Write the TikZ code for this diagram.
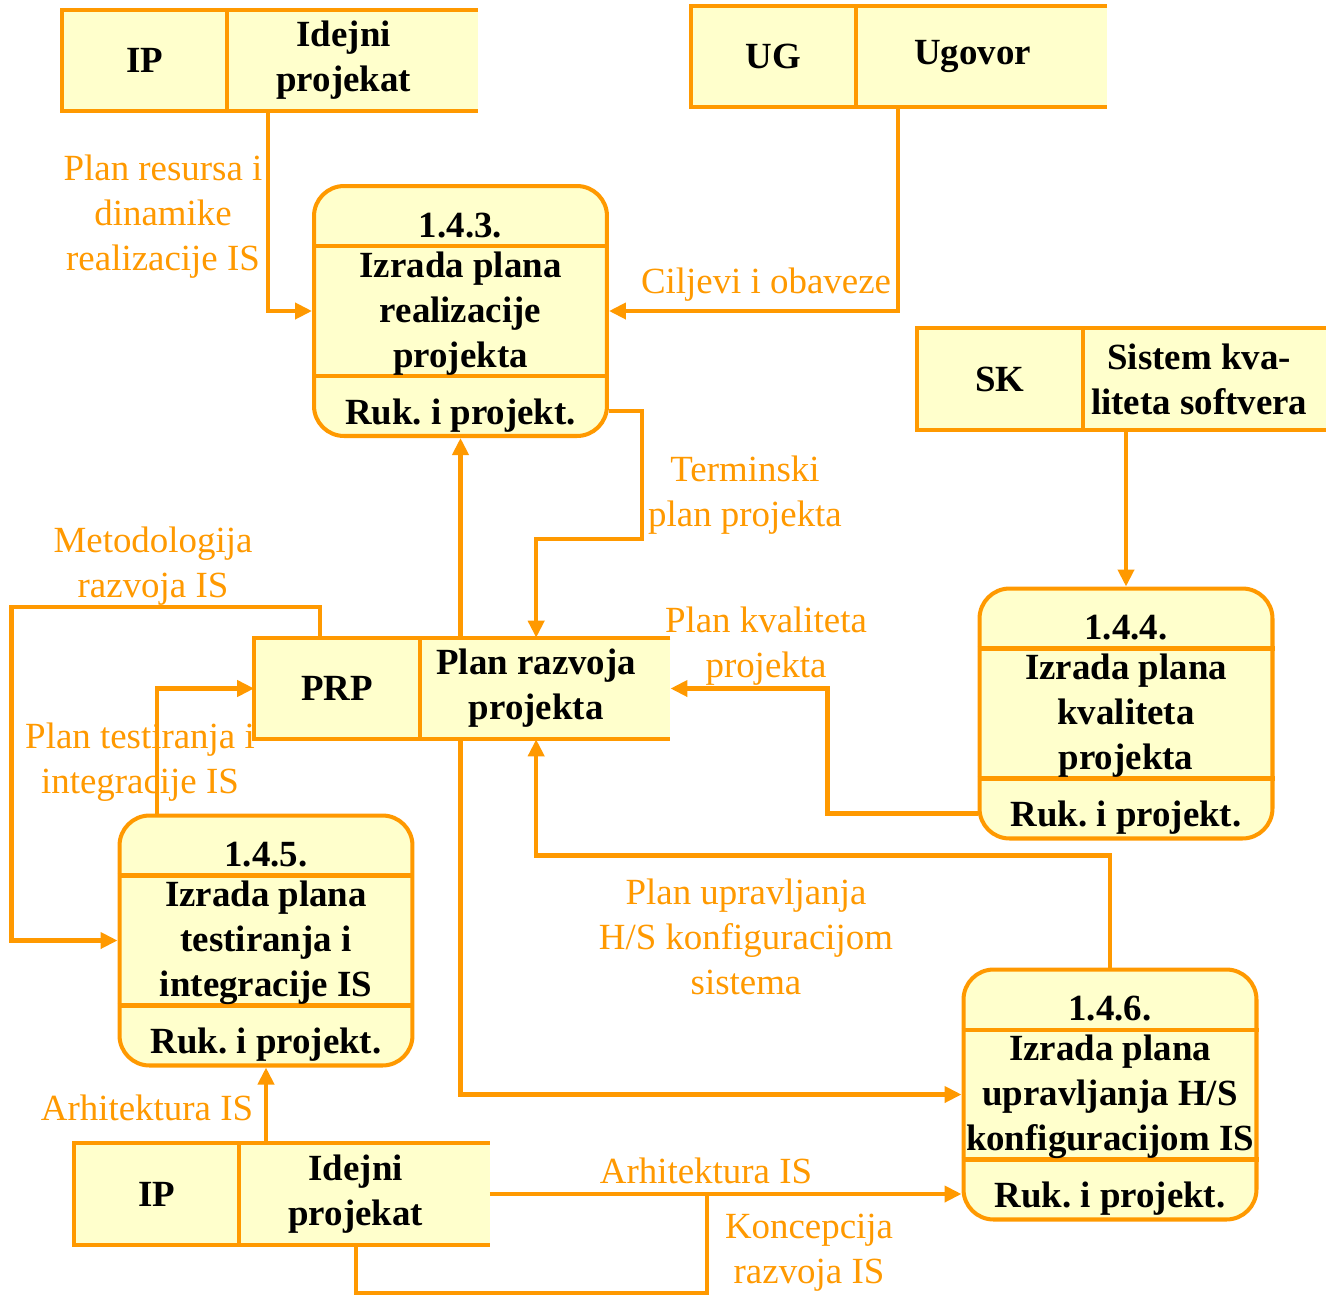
\documentclass[tikz,border=0pt]{standalone}
\usepackage{fontspec}
\setmainfont{Liberation Serif}
\usetikzlibrary{arrows.meta,positioning,calc,backgrounds}
\definecolor{orange50}{RGB}{255,153,0}
\definecolor{yellow15}{RGB}{255,255,204}
\tikzset{
  storeid/.style={rectangle, minimum width=3.3cm, minimum height=2.02cm, inner sep=0pt, align=center, font=\fontsize{21}{25.6}\selectfont\bfseries}, % key part of a store
  storename/.style={storeid, minimum width=4.64cm}, % name part of a store
  storeline/.style={draw=orange50, line width=2.3pt},
  process/.style={rectangle, draw=orange50, fill=yellow15, line width=2.3pt, rounded corners=0.6cm, minimum width=5.86cm, minimum height=5cm, inner sep=0pt},
  proctext/.style={anchor=base, align=center, inner sep=0pt, font=\fontsize{21}{25.6}\selectfont\bfseries},
  flowlabel/.style={anchor=base, align=center, inner sep=0pt, text=orange50, font=\fontsize{21}{25.6}\selectfont},
  flow/.style={draw=orange50, line width=2.3pt, -{Triangle[length=0.34cm,width=0.32cm]}},
  joinline/.style={draw=orange50, line width=2.3pt}
}

\begin{document}
\begin{tikzpicture}[x=0.02cm, y=-0.02cm]
  \useasboundingbox (0,0) rectangle (1326,1296);

  % Stores
  \node [storeid] (ip1id) at (144.5,60.5) {IP};
  \node [storename, right=0pt of ip1id] (ip1) {Idejni\\projekat};
  \node [storeid] (ugid) at (773.5,56.5) {UG};
  \node [storename, right=0pt of ugid] (ug) {Ugovor};
  \node [storeid] (skid) at (1000,379) {SK};
  \node [storename, right=0pt of skid] (sk) {Sistem kva-\\liteta softvera};
  \node [storeid] (prpid) at (337,688.5) {PRP};
  \node [storename, right=0pt of prpid] (prp) {Plan razvoja\\projekta};
  \node [storeid] (ip2id) at (156.5,1194) {IP};
  \node [storename, right=0pt of ip2id] (ip2) {Idejni\\projekat};

  \begin{scope}[on background layer]
    \draw[storeline, fill=yellow15] ($(ip1.north east)+(18,0)$) -- (ip1id.north west) -- (ip1id.south west) -- ($(ip1.south east)+(18,0)$);
    \draw[storeline, fill=yellow15] ($(ug.north east)+(18,0)$) -- (ugid.north west) -- (ugid.south west) -- ($(ug.south east)+(18,0)$);
    \draw[storeline, fill=yellow15] ($(sk.north east)+(12,0)$) -- (skid.north west) -- (skid.south west) -- ($(sk.south east)+(12,0)$);
    \draw[storeline, fill=yellow15] ($(prp.north east)+(18,0)$) -- (prpid.north west) -- (prpid.south west) -- ($(prp.south east)+(18,0)$);
    \draw[storeline, fill=yellow15] ($(ip2.north east)+(18,0)$) -- (ip2id.north west) -- (ip2id.south west) -- ($(ip2.south east)+(18,0)$);
  \end{scope}
  \draw[storeline] (ip1id.north east) -- (ip1id.south east);
  \draw[storeline] (ugid.north east) -- (ugid.south east);
  \draw[storeline] (skid.north east) -- (skid.south east);
  \draw[storeline] (prpid.north east) -- (prpid.south east);
  \draw[storeline] (ip2id.north east) -- (ip2id.south east);

  % Processes
  \node [process] (p143) at (460.5,311) {};
  \draw[storeline] ($(p143.north west)+(0,62)$) -- ($(p143.north east)+(0,62)$);
  \draw[storeline] ($(p143.south west)+(0,-62)$) -- ($(p143.south east)+(0,-62)$);
  \node [proctext] (p143num) at ($(p143.north)+(0,53)$) {1.4.3.};
  \node [proctext] (p143name) at ($(p143.north)+(0,183)$) {Izrada plana\\realizacije\\projekta};
  \node [proctext] (p143who) at ($(p143.south)+(0,-14)$) {Ruk.\ i projekt.};

  \node [process] (p144) at (1126,713.5) {};
  \draw[storeline] ($(p144.north west)+(0,62)$) -- ($(p144.north east)+(0,62)$);
  \draw[storeline] ($(p144.south west)+(0,-62)$) -- ($(p144.south east)+(0,-62)$);
  \node [proctext] (p144num) at ($(p144.north)+(0,53)$) {1.4.4.};
  \node [proctext] (p144name) at ($(p144.north)+(0,183)$) {Izrada plana\\kvaliteta\\projekta};
  \node [proctext] (p144who) at ($(p144.south)+(0,-14)$) {Ruk.\ i projekt.};

  \node [process] (p145) at (266,940.5) {};
  \draw[storeline] ($(p145.north west)+(0,62)$) -- ($(p145.north east)+(0,62)$);
  \draw[storeline] ($(p145.south west)+(0,-62)$) -- ($(p145.south east)+(0,-62)$);
  \node [proctext] (p145num) at ($(p145.north)+(0,53)$) {1.4.5.};
  \node [proctext] (p145name) at ($(p145.north)+(0,183)$) {Izrada plana\\testiranja i\\integracije IS};
  \node [proctext] (p145who) at ($(p145.south)+(0,-14)$) {Ruk.\ i projekt.};

  \node [process] (p146) at (1110,1094.5) {};
  \draw[storeline] ($(p146.north west)+(0,62)$) -- ($(p146.north east)+(0,62)$);
  \draw[storeline] ($(p146.south west)+(0,-62)$) -- ($(p146.south east)+(0,-62)$);
  \node [proctext] (p146num) at ($(p146.north)+(0,53)$) {1.4.6.};
  \node [proctext] (p146name) at ($(p146.north)+(0,183)$) {Izrada plana\\upravljanja H/S\\konfiguracijom IS};
  \node [proctext] (p146who) at ($(p146.south)+(0,-14)$) {Ruk.\ i projekt.};

  % Labels
  \node [flowlabel] (lresurs) at (163,270) {Plan resursa i\\dinamike\\realizacije IS};
  \node [flowlabel] (lciljevi) at (766,293) {Ciljevi i obaveze};
  \node [flowlabel] (ltermin) at (745,526) {Terminski\\plan projekta};
  \node [flowlabel] (lkval) at (766,677) {Plan kvaliteta\\projekta};
  \node [flowlabel] (lmetod) at (153,597) {Metodologija\\razvoja IS};
  \node [flowlabel] (ltest) at (140,793) {Plan testiranja i\\integracije IS};
  \node [flowlabel] (lhs) at (746,994) {Plan upravljanja\\H/S konfiguracijom\\sistema};
  \node [flowlabel] (larh1) at (147,1120) {Arhitektura IS};
  \node [flowlabel] (larh2) at (706,1183) {Arhitektura IS};
  \node [flowlabel] (lkoncep) at (809,1283) {Koncepcija\\razvoja IS};

  % Flows
  \draw[flow] ($(ip1id.south east)+(41,0)$) |- (p143.west);
  \draw[flow] ($(ugid.south east)+(42,0)$) |- (p143.east);
  \draw[flow] ($(p143.south east)+(0,-27)$) -| ++(33,128) -| (prp.north);
  \draw[flow] (p143.south |- prp.north) -- (p143.south);
  \draw[flow] (p144.north |- sk.south) -- (p144.north);
  \draw[flow] ($(p144.south west)+(0,-27)$) -| ($(prp.east)+(175,0)$) -- ($(prp.east)+(18,0)$);
  \draw[flow] ($(prpid.north)+(-17,0)$) -- ++(0,-31) -| ($(p145.west)+(-106,0)$) -- (p145.west);
  \draw[flow] ($(p145.north)+(-109,0)$) |- (prpid.west);
  \draw[flow] (p143.south |- prp.south) |- (p146.west);
  \draw[flow] (p146.north) -- ++(0,-112) -| (prp.south);
  \draw[flow] (p145.south |- ip2.north) -- (p145.south);
  \draw[flow] ($(ip2.east)+(18,0)$) -- (p146.west |- ip2.east);
  \draw[joinline] (ip2.south) -- ++(0,48) -| ($(ip2.east)+(235,0)$);

\end{tikzpicture}
\end{document}
